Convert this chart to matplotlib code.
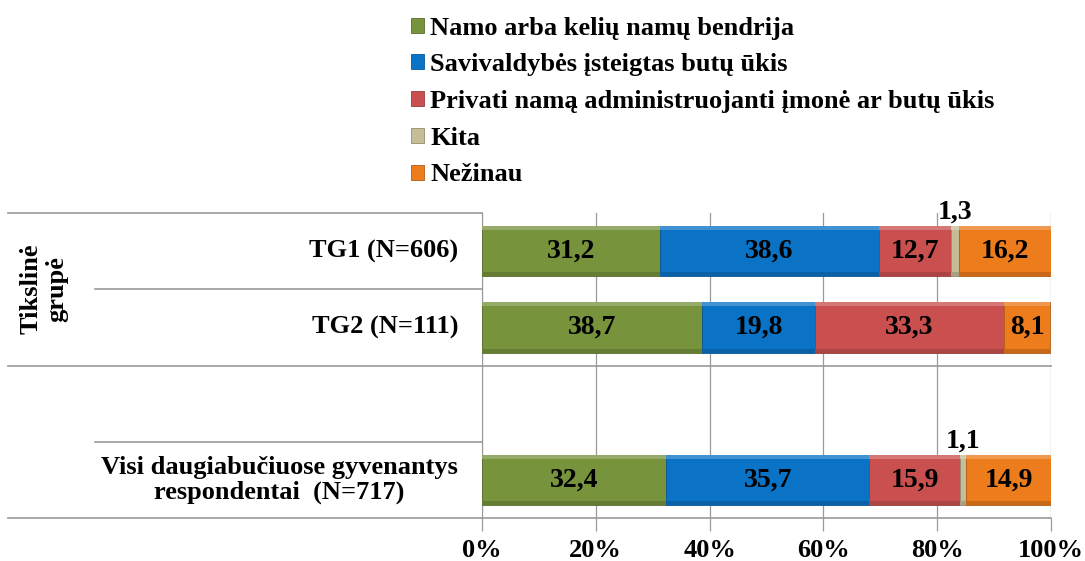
import matplotlib
matplotlib.use("Agg")
import matplotlib.pyplot as plt
import numpy as np
from matplotlib.transforms import blended_transform_factory
from matplotlib.colors import to_rgb

plt.rcParams['font.family'] = ['Liberation Serif', 'DejaVu Serif']
plt.rcParams['font.weight'] = 'bold'

categories = ["TG1 (N=606)", "TG2 (N=111)", "", "Visi daugiabučiuose gyvenantys\nrespondentai  (N=717)"]
series_names = ["Namo arba kelių namų bendrija",
                "Savivaldybės įsteigtas butų ūkis",
                "Privati namą administruojanti įmonė ar butų ūkis",
                "Kita",
                "Nežinau"]
bendrija = [31.2, 38.7, np.nan, 32.4]
savivaldybe = [38.6, 19.8, np.nan, 35.7]
privati = [12.7, 33.3, np.nan, 15.9]
kita = [1.3, 0.0, np.nan, 1.1]
nezinau = [16.2, 8.1, np.nan, 14.9]
series = [bendrija, savivaldybe, privati, kita, nezinau]
colors = ["#77933C", "#0A73C6", "#C9504E", "#C4BD97", "#EC7C1C"]
group_label = "Tikslinė\ngrupė"
xticks = [0, 20, 40, 60, 80, 100]
xtick_labels = ["0%", "20%", "40%", "60%", "80%", "100%"]


def shade(c, f):
    r, g, b = to_rgb(c)
    if f >= 0:
        return (r + (1 - r) * f, g + (1 - g) * f, b + (1 - b) * f)
    return (r * (1 + f), g * (1 + f), b * (1 + f))


W, H = 1085, 561
fig = plt.figure(figsize=(W / 100, H / 100), dpi=100)
ax = fig.add_axes([482 / W, 1 - 518 / H, (1051 - 482) / W, (518 - 213) / H])

n = len(categories)
ypos = np.arange(n)
bar_h = 0.66
strip = 0.05
left = np.zeros(n)
for vals, col, name in zip(series, colors, series_names):
    arr = np.array(vals, dtype=float)
    idx = np.where(~np.isnan(arr))[0]
    v = arr[idx]
    l = left[idx]
    ax.barh(ypos[idx], v, left=l, height=bar_h, color=col, edgecolor=shade(col, -0.25),
            linewidth=0.6, label=name, zorder=3)
    # subtle bevel: lighter top strip, darker bottom strip
    ax.barh(ypos[idx] - bar_h / 2 + strip / 2, v, left=l, height=strip,
            color=shade(col, 0.22), linewidth=0, zorder=3.5)
    ax.barh(ypos[idx] + bar_h / 2 - strip / 2, v, left=l, height=strip,
            color=shade(col, -0.15), linewidth=0, zorder=3.5)
    for i in idx:
        val = arr[i]
        if val == 0:
            continue
        cx = left[i] + val / 2
        lbl = f"{val:.1f}".replace(".", ",")
        if val < 3:
            ax.text(cx, ypos[i] - bar_h / 2 - 0.02, lbl, ha='center', va='bottom',
                    fontsize=20, fontweight='bold', zorder=5)
        else:
            ax.text(cx, ypos[i], lbl, ha='center', va='center',
                    fontsize=20, fontweight='bold', zorder=5)
    left[idx] += v

ax.set_xlim(0, 100)
ax.set_ylim(n - 0.5, -0.5)
ax.set_xticks(xticks)
ax.set_xticklabels(xtick_labels, fontsize=19, fontweight='bold')
ax.set_yticks([])
ax.grid(axis='x', color='#999999', linewidth=0.9, zorder=0)
for s in ['top', 'right', 'bottom']:
    ax.spines[s].set_visible(False)
ax.spines['left'].set_color('#999999')
ax.tick_params(axis='x', length=9, width=0.9, color='#999999', pad=6)

# left table lines
tr = blended_transform_factory(ax.transAxes, ax.transData)
full_x = (8 - 482) / (1051 - 482)
short_x = (95 - 482) / (1051 - 482)
ax.plot([full_x, 0], [-0.5, -0.5], transform=tr, color='#999999', linewidth=1.2, clip_on=False, zorder=1)
ax.plot([short_x, 0], [0.5, 0.5], transform=tr, color='#999999', linewidth=1.2, clip_on=False, zorder=1)
ax.plot([full_x, 1], [1.5, 1.5], transform=tr, color='#999999', linewidth=1.2, clip_on=False, zorder=1)
ax.plot([short_x, 0], [2.5, 2.5], transform=tr, color='#999999', linewidth=1.2, clip_on=False, zorder=1)
ax.plot([full_x, 1], [3.5, 3.5], transform=tr, color='#999999', linewidth=1.2, clip_on=False, zorder=1)

lab_x = (458 - 482) / (1051 - 482)
for i, c in enumerate(categories):
    if c:
        ax.text(lab_x, ypos[i], c, transform=tr, ha='right', va='center',
                multialignment='center', fontsize=19, fontweight='bold', linespacing=1.1)

gx = (44 - 482) / (1051 - 482)
ax.text(gx, 0.5, group_label, transform=tr, rotation=90, ha='center', va='center',
        multialignment='center', fontsize=19, fontweight='bold', linespacing=1.15)

handles, labels = ax.get_legend_handles_labels()
leg = fig.legend(handles, labels, loc='upper left', bbox_to_anchor=(400 / W, 1 - 6 / H),
                 frameon=False, prop={'size': 19, 'weight': 'bold'},
                 handlelength=0.5, handleheight=0.5, handletextpad=0.25,
                 labelspacing=0.52, borderaxespad=0)

fig.savefig("out.png", dpi=100)
